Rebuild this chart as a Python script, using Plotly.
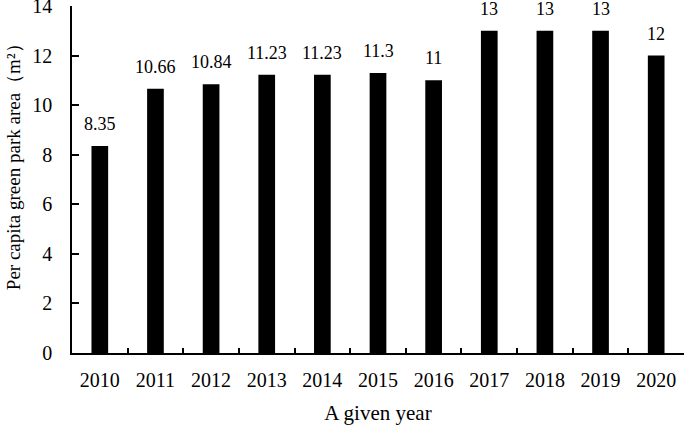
import plotly.graph_objects as go

years = ["2010", "2011", "2012", "2013", "2014", "2015", "2016", "2017", "2018", "2019", "2020"]
values = [8.35, 10.66, 10.84, 11.23, 11.23, 11.3, 11, 13, 13, 13, 12]
labels = ["8.35", "10.66", "10.84", "11.23", "11.23", "11.3", "11", "13", "13", "13", "12"]
y_ticks = [0, 2, 4, 6, 8, 10, 12, 14]
y_title = "Per capita green park area（m²）"
x_title = "A given year"

FONT = "Liberation Serif"

fig = go.Figure(go.Bar(
    x=years, y=values,
    marker=dict(color="black", line=dict(width=0)),
    width=0.3, hoverinfo="skip",
))

for i, (v, lab) in enumerate(zip(values, labels)):
    fig.add_annotation(
        x=i, y=v, xref="x", yref="y", text=lab, showarrow=False,
        yanchor="bottom", yshift=10,
        font=dict(family=FONT, size=18, color="black"),
    )

fig.add_annotation(
    x=-0.0964, y=0.55, xref="paper", yref="paper", text=y_title, showarrow=False,
    textangle=-90, xanchor="center", yanchor="middle",
    font=dict(family=FONT, size=19, color="black"),
)

fig.update_layout(
    width=685, height=431,
    margin=dict(l=72, r=1, t=6, b=78),
    paper_bgcolor="white", plot_bgcolor="white",
    font=dict(family=FONT, size=20, color="black"),
    showlegend=False,
    xaxis=dict(
        type="category", range=[-0.5, 10.5], automargin=False,
        showline=True, linecolor="black", linewidth=1.5,
        ticks="inside", tickson="boundaries", ticklen=5, tickcolor="black", tickwidth=1.5,
        showgrid=False, ticklabelstandoff=8,
        tickfont=dict(family=FONT, size=20),
        title=dict(text=x_title, font=dict(family=FONT, size=21), standoff=16),
    ),
    yaxis=dict(
        range=[0, 14], tickvals=y_ticks, automargin=False,
        showline=True, linecolor="black", linewidth=1.5,
        ticks="inside", ticklen=7, tickcolor="black", tickwidth=1.5,
        showgrid=False, zeroline=False, ticklabelstandoff=14,
        ticklabeloverflow="allow",
        tickfont=dict(family=FONT, size=20),
    ),
)

fig.write_html("out.html", config={"displayModeBar": False},
               post_script="document.body.style.margin='0';document.body.style.overflow='hidden';")
